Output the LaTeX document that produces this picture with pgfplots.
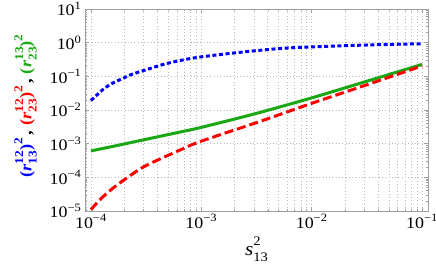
\documentclass[border=0pt]{standalone}
\usepackage{fontspec}
\setmainfont{Liberation Serif}[FakeStretch=1.12]
\usepackage{pgfplots}
\pgfplotsset{compat=1.18}
\definecolor{cblue}{rgb}{0,0,1}
\definecolor{cred}{rgb}{1,0,0}
\definecolor{cgreen}{rgb}{0.1,0.66,0.08}
\newcommand{\scr}[1]{{\fontsize{12}{12}\selectfont #1}}
\newcommand{\rr}[2]{(\textit{r}\rlap{\raisebox{0.5em}{\scr{#1}}}\raisebox{-0.32em}{\scr{#2}})\raisebox{0.55em}{\scr{2}}}
\newcommand{\tp}[1]{10\textsuperscript{#1}}
\begin{document}
\begin{tikzpicture}
\begin{axis}[
  scale only axis, width=343pt, height=202pt,
  xmode=log, ymode=log,
  xmin=8.83e-5, xmax=0.1132, ymin=1e-5, ymax=10,
  xtick={1e-4,1e-3,1e-2,1e-1},
  xticklabels={\tp{−4},\tp{−3},\tp{−2},\tp{−1}},
  ytick={1e-5,1e-4,1e-3,1e-2,1e-1,1,10},
  yticklabels={\tp{−5},\tp{−4},\tp{−3},\tp{−2},\tp{−1},\tp{0},\tp{1}},
  minor xtick={9e-5,2e-4,3e-4,4e-4,5e-4,6e-4,7e-4,8e-4,9e-4,2e-3,3e-3,4e-3,5e-3,6e-3,7e-3,8e-3,9e-3,2e-2,3e-2,4e-2,5e-2,6e-2,7e-2,8e-2,9e-2},
  minor ytick={2e-5,3e-5,4e-5,5e-5,6e-5,7e-5,8e-5,9e-5,2e-4,3e-4,4e-4,5e-4,6e-4,7e-4,8e-4,9e-4,2e-3,3e-3,4e-3,5e-3,6e-3,7e-3,8e-3,9e-3,2e-2,3e-2,4e-2,5e-2,6e-2,7e-2,8e-2,9e-2,0.2,0.3,0.4,0.5,0.6,0.7,0.8,0.9,2,3,4,5,6,7,8,9},
  xmajorgrids, xminorgrids, ymajorgrids, yminorgrids=false,
  grid style={gray!55, line width=0.6pt, dash pattern=on 0.7pt off 2.6pt},
  minor grid style={gray!55, line width=0.6pt, dash pattern=on 0.7pt off 2.6pt},
  axis line style={gray!75},
  every tick/.style={gray!75, line width=0.5pt},
  major tick length=4pt, minor tick length=2.2pt,
  tick label style={font=\fontsize{16}{18}\selectfont, black},
  xlabel={\textit{s}\rlap{\raisebox{0.5em}{\fontsize{13}{13}\selectfont 2}}\raisebox{-0.3em}{\fontsize{13}{13}\selectfont 13}},
  xlabel style={font=\fontsize{19}{21}\selectfont, yshift=-2pt},
  ylabel={\bfseries\textcolor{cblue}{\rr{12}{13}}\,, \textcolor{cred}{\rr{12}{23}}\,, \textcolor{cgreen}{\rr{13}{23}}},
  ylabel style={font=\fontsize{16.5}{19}\selectfont, yshift=6pt, xshift=4pt},
]
\addplot[cblue, line width=3pt, smooth, dash pattern=on 4pt off 2.6pt] coordinates {
(1.0e-4,0.0191) (1.21e-4,0.0343) (1.34e-4,0.0451) (1.58e-4,0.0634) (2.03e-4,0.0925)
(2.25e-4,0.1096) (3.22e-4,0.160) (4.50e-4,0.225) (6.41e-4,0.295) (9.73e-4,0.375)
(2.24e-3,0.517) (5.16e-3,0.671) (9.66e-3,0.743) (3.18e-2,0.853) (0.1,0.93)
};
\addplot[cgreen, line width=3pt, smooth] coordinates {
(1.0e-4,6.1e-4) (1.585e-4,8.32e-4) (3.16e-4,1.35e-3) (6.31e-4,2.19e-3) (1.0e-3,3.05e-3)
(3.16e-3,7.94e-3) (1.0e-2,0.0229) (3.16e-2,0.0716) (0.1,0.226)
};
\addplot[cred, line width=3pt, smooth, dash pattern=on 9pt off 4pt] coordinates {
(1.0e-4,1.1e-5) (1.21e-4,2.19e-5) (1.585e-4,4.79e-5) (2.26e-4,1.12e-4) (3.2e-4,2.29e-4)
(6.41e-4,6.46e-4) (9.73e-4,1.15e-3) (3.4e-3,4.57e-3) (1.0e-2,0.0158) (3.16e-2,0.0562) (0.1,0.204)
};
\end{axis}
\pgfresetboundingbox
\path (current axis.south west)+(-85pt,-62pt) rectangle ([shift={(8pt,9pt)}]current axis.north east);
\end{tikzpicture}
\end{document}
